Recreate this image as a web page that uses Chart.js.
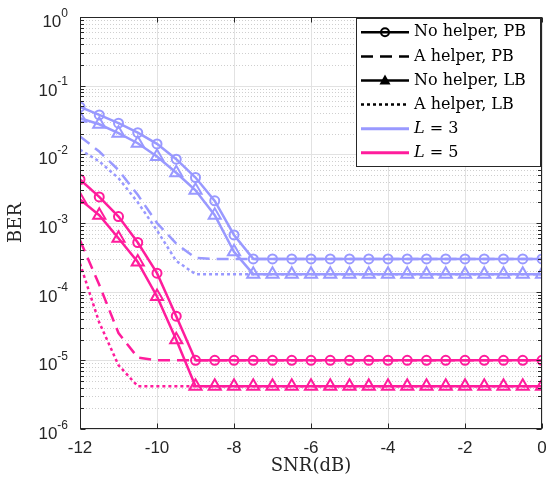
<!DOCTYPE html>
<html>
<head>
<meta charset="utf-8">
<script src="https://cdn.jsdelivr.net/npm/chart.js@4.4.0/dist/chart.umd.min.js"></script>
<style>
  html, body { margin: 0; padding: 0; background: #fff; }
</style>
</head>
<body>
<canvas id="berChart" width="546" height="482"></canvas>
<script>
// SNR axis (dB)
const snr = [-12, -11.5, -11, -10.5, -10, -9.5, -9, -8.5, -8, -7.5, -7, -6.5, -6,
             -5.5, -5, -4.5, -4, -3.5, -3, -2.5, -2, -1.5, -1, -0.5, 0];

// L = 3
const l3PbNoHelper = [0.049, 0.0375, 0.0284, 0.0207, 0.0142, 0.0085, 0.0046, 0.0021, 0.00067,
  3.0e-4, 3.0e-4, 3.0e-4, 3.0e-4, 3.0e-4, 3.0e-4, 3.0e-4, 3.0e-4, 3.0e-4, 3.0e-4, 3.0e-4,
  3.0e-4, 3.0e-4, 3.0e-4, 3.0e-4, 3.0e-4];
const l3PbHelper = [0.0182, 0.011, 0.0059, 0.00257, 0.001, 0.0005, 0.00031,
  3.0e-4, 3.0e-4, 3.0e-4, 3.0e-4, 3.0e-4, 3.0e-4, 3.0e-4, 3.0e-4, 3.0e-4, 3.0e-4, 3.0e-4,
  3.0e-4, 3.0e-4, 3.0e-4, 3.0e-4, 3.0e-4, 3.0e-4, 3.0e-4];
const l3LbNoHelper = [0.0335, 0.0274, 0.0203, 0.0145, 0.0093, 0.0054, 0.003, 0.0013, 0.00038,
  1.8e-4, 1.8e-4, 1.8e-4, 1.8e-4, 1.8e-4, 1.8e-4, 1.8e-4, 1.8e-4, 1.8e-4, 1.8e-4, 1.8e-4,
  1.8e-4, 1.8e-4, 1.8e-4, 1.8e-4, 1.8e-4];
const l3LbHelper = [0.0117, 0.0079, 0.0045, 0.002, 0.00078, 0.00028,
  1.8e-4, 1.8e-4, 1.8e-4, 1.8e-4, 1.8e-4, 1.8e-4, 1.8e-4, 1.8e-4, 1.8e-4, 1.8e-4, 1.8e-4,
  1.8e-4, 1.8e-4, 1.8e-4, 1.8e-4, 1.8e-4, 1.8e-4, 1.8e-4, 1.8e-4];

// L = 5
const l5PbNoHelper = [0.0043, 0.0024, 0.00124, 0.00052, 0.000186, 0.000044,
  1e-5, 1e-5, 1e-5, 1e-5, 1e-5, 1e-5, 1e-5, 1e-5, 1e-5, 1e-5, 1e-5, 1e-5, 1e-5, 1e-5,
  1e-5, 1e-5, 1e-5, 1e-5, 1e-5];
const l5PbHelper = [0.00056, 0.000126, 0.000025, 0.000011,
  1e-5, 1e-5, 1e-5, 1e-5, 1e-5, 1e-5, 1e-5, 1e-5, 1e-5, 1e-5, 1e-5, 1e-5, 1e-5, 1e-5,
  1e-5, 1e-5, 1e-5, 1e-5, 1e-5, 1e-5, 1e-5];
const l5LbNoHelper = [0.0022, 0.0013, 0.0006, 0.00027, 0.000085, 0.00002,
  4.2e-6, 4.2e-6, 4.2e-6, 4.2e-6, 4.2e-6, 4.2e-6, 4.2e-6, 4.2e-6, 4.2e-6, 4.2e-6, 4.2e-6,
  4.2e-6, 4.2e-6, 4.2e-6, 4.2e-6, 4.2e-6, 4.2e-6, 4.2e-6, 4.2e-6];
const l5LbHelper = [0.000257, 0.0000355, 0.0000085,
  4.2e-6, 4.2e-6, 4.2e-6, 4.2e-6, 4.2e-6, 4.2e-6, 4.2e-6, 4.2e-6, 4.2e-6, 4.2e-6, 4.2e-6,
  4.2e-6, 4.2e-6, 4.2e-6, 4.2e-6, 4.2e-6, 4.2e-6, 4.2e-6, 4.2e-6, 4.2e-6, 4.2e-6, 4.2e-6];

const xTicks = [-12, -10, -8, -6, -4, -2, 0];
const yExponents = [-6, -5, -4, -3, -2, -1, 0];
const legendLabels = ['No helper, PB', 'A helper, PB', 'No helper, LB', 'A helper, LB', 'L = 3', 'L = 5'];

const purple = '#9999ff';
const pink = '#ff1c9c';
const axisColor = '#262626';

function makeSet(label, values, color, kind) {
  const ds = {
    label: label,
    data: snr.map((x, i) => ({ x: x, y: values[i] })),
    borderColor: color,
    backgroundColor: color,
    borderWidth: 2.5,
    pointRadius: 0,
    tension: 0,
    fill: false
  };
  if (kind === 'circle') {
    ds.pointStyle = 'circle';
    ds.pointRadius = 4.5;
    ds.pointBorderWidth = 2;
    ds.pointBackgroundColor = 'rgba(0,0,0,0)';
  } else if (kind === 'tri') {
    ds.pointStyle = 'triangle';
    ds.pointRadius = 7;
    ds.pointBorderWidth = 2;
    ds.pointBackgroundColor = 'rgba(0,0,0,0)';
  } else if (kind === 'dash') {
    ds.borderDash = [12, 7];
  } else if (kind === 'dot') {
    ds.borderDash = [3, 3];
  }
  return ds;
}

// grid, axis box, inward ticks, y labels with superscripts
const axesDecor = {
  id: 'axesDecor',
  beforeDatasetsDraw(chart) {
    const ctx = chart.ctx, a = chart.chartArea;
    const xs = chart.scales.x, ys = chart.scales.y;
    ctx.save();
    ctx.lineWidth = 1;
    // minor y grid (dotted)
    ctx.strokeStyle = '#cfcfcf';
    ctx.setLineDash([1, 2]);
    yExponents.slice(0, -1).forEach(e => {
      for (let m = 2; m <= 9; m++) {
        const y = Math.round(ys.getPixelForValue(m * Math.pow(10, e))) + 0.5;
        ctx.beginPath(); ctx.moveTo(a.left, y); ctx.lineTo(a.right, y); ctx.stroke();
      }
    });
    // major grid
    ctx.setLineDash([]);
    ctx.strokeStyle = '#e2e2e2';
    xTicks.forEach(v => {
      const x = Math.round(xs.getPixelForValue(v)) + 0.5;
      ctx.beginPath(); ctx.moveTo(x, a.top); ctx.lineTo(x, a.bottom); ctx.stroke();
    });
    yExponents.forEach(e => {
      const y = Math.round(ys.getPixelForValue(Math.pow(10, e))) + 0.5;
      ctx.beginPath(); ctx.moveTo(a.left, y); ctx.lineTo(a.right, y); ctx.stroke();
    });
    ctx.restore();
  },
  afterDatasetsDraw(chart) {
    const ctx = chart.ctx, a = chart.chartArea;
    const xs = chart.scales.x, ys = chart.scales.y;
    ctx.save();
    ctx.strokeStyle = axisColor;
    ctx.lineWidth = 1;
    const L = Math.round(a.left) + 0.5, R = Math.round(a.right) - 0.5;
    const T = Math.round(a.top) + 0.5, B = Math.round(a.bottom) - 0.5;
    ctx.strokeRect(L, T, R - L, B - T);
    // x ticks (bottom + top)
    xTicks.forEach(v => {
      const x = Math.round(xs.getPixelForValue(v)) + 0.5;
      ctx.beginPath();
      ctx.moveTo(x, B); ctx.lineTo(x, B - 5);
      ctx.moveTo(x, T); ctx.lineTo(x, T + 5);
      ctx.stroke();
    });
    // y ticks, major and minor (left + right)
    yExponents.forEach(e => {
      const y = Math.round(ys.getPixelForValue(Math.pow(10, e))) + 0.5;
      ctx.beginPath();
      ctx.moveTo(L, y); ctx.lineTo(L + 5, y);
      ctx.moveTo(R, y); ctx.lineTo(R - 5, y);
      ctx.stroke();
      if (e < 0) {
        for (let m = 2; m <= 9; m++) {
          const ym = Math.round(ys.getPixelForValue(m * Math.pow(10, e))) + 0.5;
          ctx.beginPath();
          ctx.moveTo(L, ym); ctx.lineTo(L + 3.5, ym);
          ctx.moveTo(R, ym); ctx.lineTo(R - 3.5, ym);
          ctx.stroke();
        }
      }
    });
    // y tick labels 10^e
    ctx.fillStyle = axisColor;
    ctx.textAlign = 'right';
    ctx.textBaseline = 'alphabetic';
    yExponents.forEach(e => {
      const y = ys.getPixelForValue(Math.pow(10, e));
      const sup = String(e);
      ctx.font = '12px "Liberation Sans"';
      const sw = ctx.measureText(sup).width;
      ctx.fillText(sup, 68, y - 0.5);
      ctx.font = '17px "Liberation Sans"';
      ctx.fillText('10', 68 - sw, y + 10);
    });
    ctx.restore();
    drawLegend(ctx);
  }
};

function drawLegend(ctx) {
  const bx = 356.5, by = 18.5, bw = 184, bh = 148;
  ctx.save();
  ctx.fillStyle = '#fff';
  ctx.fillRect(bx, by, bw, bh);
  ctx.strokeStyle = axisColor;
  ctx.lineWidth = 1;
  ctx.strokeRect(bx, by, bw, bh);
  const x0 = 361, x1 = 409, xm = 385;
  legendLabels.forEach((text, i) => {
    const y = 32.3 + i * 24.1;
    ctx.save();
    ctx.lineWidth = 2.5;
    ctx.strokeStyle = i === 4 ? purple : (i === 5 ? pink : '#000');
    if (i === 1) ctx.setLineDash([12, 7]);
    if (i === 3) ctx.setLineDash([3, 3]);
    if (i >= 4) ctx.lineWidth = 3;
    ctx.beginPath(); ctx.moveTo(x0, y); ctx.lineTo(x1, y); ctx.stroke();
    ctx.setLineDash([]);
    if (i === 0) {
      ctx.lineWidth = 2;
      ctx.beginPath(); ctx.arc(xm, y, 4, 0, Math.PI * 2); ctx.stroke();
    } else if (i === 2) {
      ctx.fillStyle = '#000';
      ctx.beginPath();
      ctx.moveTo(xm, y - 6); ctx.lineTo(xm + 5.5, y + 4); ctx.lineTo(xm - 5.5, y + 4);
      ctx.closePath(); ctx.fill();
    }
    ctx.restore();
    ctx.fillStyle = '#000';
    ctx.textAlign = 'left';
    ctx.textBaseline = 'middle';
    if (i >= 4) {
      ctx.font = 'italic 16px "DejaVu Serif"';
      ctx.fillText(text.charAt(0), 414, y);
      const w = ctx.measureText(text.charAt(0)).width;
      ctx.font = '16px "DejaVu Serif"';
      ctx.fillText(text.slice(1), 414 + w, y);
    } else {
      ctx.font = '16px "DejaVu Serif"';
      ctx.fillText(text, 414, y);
    }
  });
  ctx.restore();
}

const ctx = document.getElementById('berChart').getContext('2d');
const berChart = new Chart(ctx, {
  type: 'line',
  data: {
    datasets: [
      makeSet('No helper, PB (L=5)', l5PbNoHelper, pink, 'circle'),
      makeSet('No helper, LB (L=5)', l5LbNoHelper, pink, 'tri'),
      makeSet('A helper, PB (L=5)', l5PbHelper, pink, 'dash'),
      makeSet('A helper, LB (L=5)', l5LbHelper, pink, 'dot'),
      makeSet('No helper, PB (L=3)', l3PbNoHelper, purple, 'circle'),
      makeSet('No helper, LB (L=3)', l3LbNoHelper, purple, 'tri'),
      makeSet('A helper, PB (L=3)', l3PbHelper, purple, 'dash'),
      makeSet('A helper, LB (L=3)', l3LbHelper, purple, 'dot')
    ]
  },
  options: {
    responsive: false,
    animation: false,
    layout: { autoPadding: false, padding: { left: 0, right: 4, top: 17, bottom: 0 } },
    plugins: { legend: { display: false }, tooltip: { enabled: false } },
    scales: {
      x: {
        type: 'linear',
        min: -12,
        max: 0,
        afterBuildTicks: s => { s.ticks = xTicks.map(v => ({ value: v })); },
        grid: { display: false, drawTicks: false },
        border: { display: false },
        ticks: {
          color: axisColor,
          font: { family: 'Liberation Sans', size: 17 },
          padding: 9,
          maxRotation: 0,
          callback: v => String(v)
        },
        title: {
          display: true,
          text: 'SNR(dB)',
          color: axisColor,
          font: { family: 'DejaVu Serif', size: 18 },
          padding: { top: 0, bottom: 5 }
        },
        afterFit: s => { s.height = 53; s.paddingLeft = 0; s.paddingRight = 0; }
      },
      y: {
        type: 'logarithmic',
        min: 1e-6,
        max: 1,
        afterBuildTicks: s => { s.ticks = yExponents.map(e => ({ value: Math.pow(10, e) })); },
        grid: { display: false, drawTicks: false },
        border: { display: false },
        ticks: { display: false },
        title: {
          display: true,
          text: 'BER',
          color: axisColor,
          font: { family: 'DejaVu Serif', size: 18 },
          padding: { top: 6, bottom: 0 }
        },
        afterFit: s => { s.width = 80; s.paddingTop = 0; s.paddingBottom = 0; }
      }
    }
  },
  plugins: [axesDecor]
});
</script>
</body>
</html>
